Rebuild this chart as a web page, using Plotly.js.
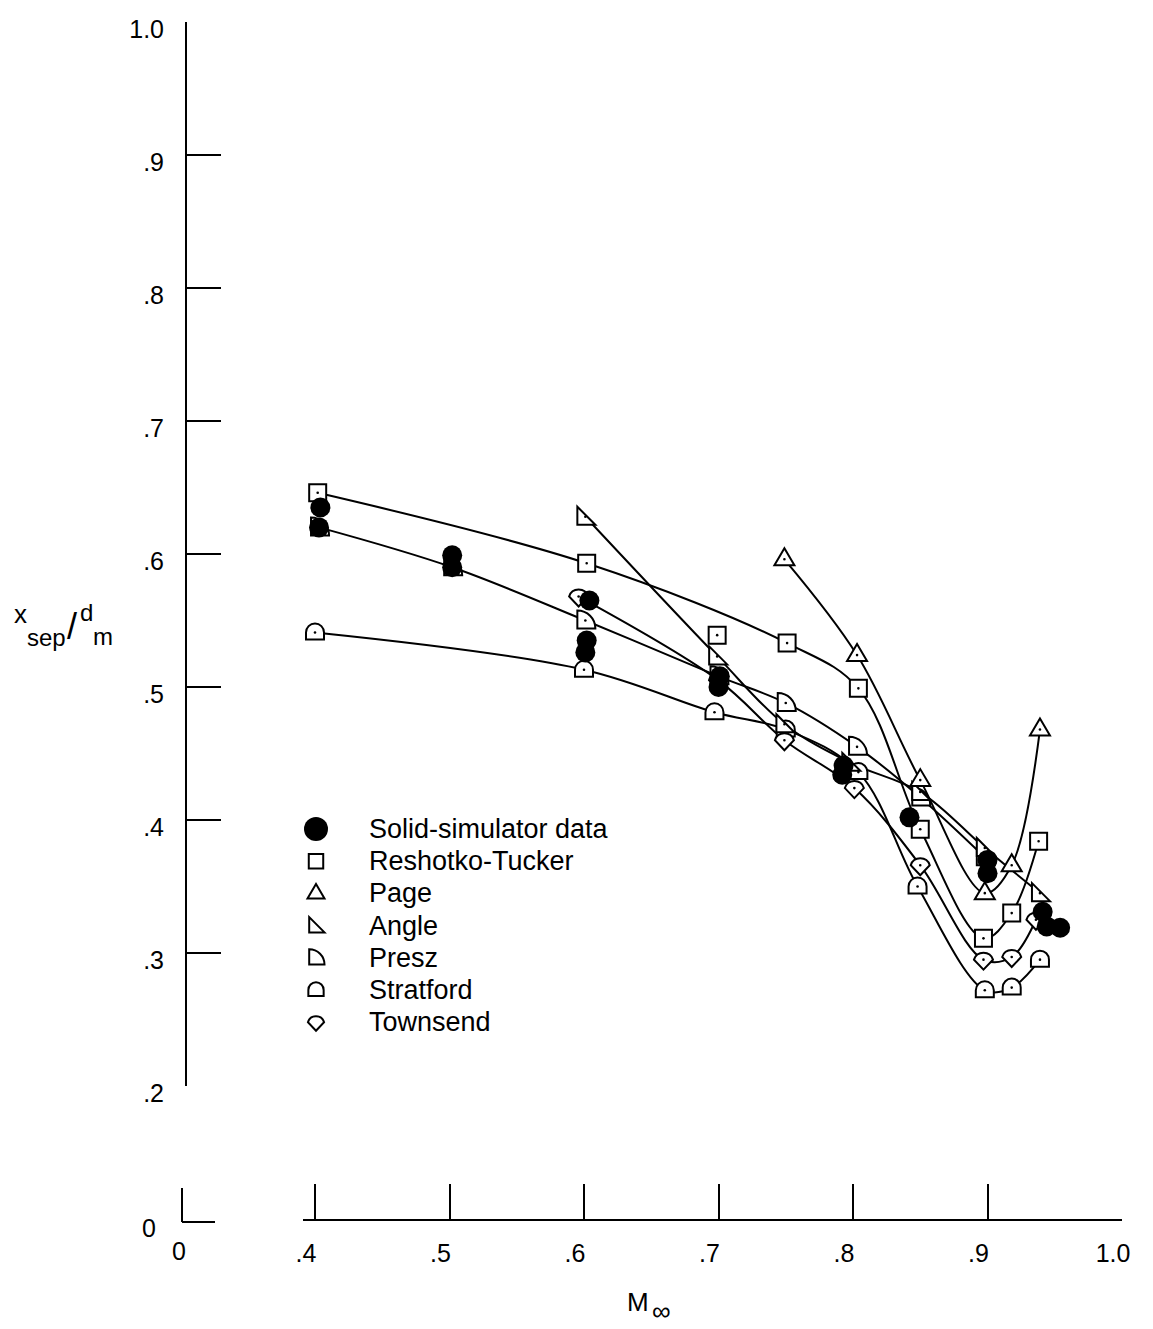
<!DOCTYPE html>
<html><head><meta charset="utf-8">
<script src="https://cdn.plot.ly/plotly-3.0.1.min.js"></script>
<style>html,body{margin:0;padding:0;background:#fff}#chart{width:1153px;height:1329px}</style>
</head><body><div id="chart"></div>
<script>
const W = 1153, H = 1329;
const FONT = "Liberation Sans Narrow, Liberation Sans, Arial, sans-serif";

// ---------- data (Mach number M, separation location x_sep/d_m) ----------
const solidM = [0.404,0.403,0.502,0.502,0.604,0.602,0.601,0.701,0.700,0.793,0.792,0.842,0.900,0.900,0.941,0.944,0.954];
const solidX = [0.635,0.620,0.599,0.590,0.565,0.535,0.526,0.508,0.500,0.441,0.434,0.402,0.370,0.360,0.331,0.320,0.319];

const reshM = [0.402,0.602,0.751,0.804,0.850,0.897,0.918,0.938];
const reshX = [0.646,0.593,0.533,0.499,0.393,0.311,0.330,0.384];
const reshExtraM = [0.699];
const reshExtraX = [0.539];

const pageM = [0.749,0.803,0.850,0.898,0.918,0.939];
const pageX = [0.596,0.524,0.430,0.345,0.366,0.468];

const angleM = [0.601,0.699,0.749,0.798,0.850,0.898,0.939];
const angleX = [0.628,0.523,0.472,0.443,0.421,0.379,0.345];

const preszM = [0.403,0.502,0.601,0.700,0.750,0.803,0.850,0.898];
const preszX = [0.620,0.590,0.550,0.508,0.488,0.455,0.417,0.372];

const stratM = [0.400,0.600,0.697,0.750,0.804,0.848,0.898,0.918,0.939];
const stratX = [0.541,0.513,0.481,0.468,0.436,0.350,0.272,0.274,0.295];

const townM = [0.596,0.700,0.749,0.801,0.850,0.897,0.918,0.936];
const townX = [0.568,0.505,0.460,0.424,0.366,0.295,0.297,0.325];

const legendNames = ["Solid-simulator data","Reshotko-Tucker","Page","Angle","Presz","Stratford","Townsend"];

const xTickVals = [0.4,0.5,0.6,0.7,0.8,0.9,1.0];
const xTickText = [".4",".5",".6",".7",".8",".9","1.0"];
const yTickVals = [0.2,0.3,0.4,0.5,0.6,0.7,0.8,0.9,1.0];
const yTickText = [".2",".3",".4",".5",".6",".7",".8",".9","1.0"];

// ---------- symbol paths (pixel units, y up) ----------
function fmt(v){ return (Math.round(v*100)/100).toString(); }
const paths = {
  square: k => `M${fmt(-8.5*k)},${fmt(-8.5*k)}L${fmt(8.5*k)},${fmt(-8.5*k)}L${fmt(8.5*k)},${fmt(8.5*k)}L${fmt(-8.5*k)},${fmt(8.5*k)}Z`,
  page: k => `M${fmt(-10*k)},${fmt(-6*k)}L${fmt(10*k)},${fmt(-6*k)}L0,${fmt(11*k)}Z`,
  angle: k => `M${fmt(-8*k)},${fmt(-8*k)}L${fmt(10*k)},${fmt(-8*k)}L${fmt(-8*k)},${fmt(10*k)}Z`,
  presz: k => `M${fmt(-8*k)},${fmt(-8*k)}L${fmt(10*k)},${fmt(-8*k)}C${fmt(10*k)},${fmt(2*k)} ${fmt(2*k)},${fmt(10*k)} ${fmt(-8*k)},${fmt(10*k)}Z`,
  strat: k => `M${fmt(-9*k)},${fmt(-7*k)}L${fmt(9*k)},${fmt(-7*k)}L${fmt(9*k)},0C${fmt(9*k)},${fmt(5*k)} ${fmt(5*k)},${fmt(9*k)} 0,${fmt(9*k)}C${fmt(-5*k)},${fmt(9*k)} ${fmt(-9*k)},${fmt(5*k)} ${fmt(-9*k)},0Z`,
  town: k => `M0,${fmt(-10*k)}L${fmt(9.5*k)},0C${fmt(8*k)},${fmt(5*k)} ${fmt(4*k)},${fmt(7*k)} 0,${fmt(7*k)}C${fmt(-4*k)},${fmt(7*k)} ${fmt(-8*k)},${fmt(5*k)} ${fmt(-9.5*k)},0Z`
};

function symShape(path, xa, ya, xref, yref){
  return {type:'path', xref:xref, yref:yref, xsizemode:'pixel', ysizemode:'pixel',
    xanchor:xa, yanchor:ya, path:path, line:{color:'#000', width:2}, fillcolor:'#fff', layer:'above'};
}
function dotShape(xa, ya, xref, yref, r){
  return {type:'circle', xref:xref, yref:yref, xsizemode:'pixel', ysizemode:'pixel',
    xanchor:xa, yanchor:ya, x0:-r, x1:r, y0:-r, y1:r, line:{width:0}, fillcolor:'#000', layer:'above'};
}

const shapes = [];
function addSeries(M, X, pathKey){
  for(let i=0;i<M.length;i++){
    shapes.push(symShape(paths[pathKey](1), M[i], X[i], 'x', 'y'));
    shapes.push(dotShape(M[i], X[i], 'x', 'y', 1.3));
  }
}
addSeries(stratM, stratX, 'strat');
addSeries(townM, townX, 'town');
addSeries(preszM, preszX, 'presz');
addSeries(angleM, angleX, 'angle');
addSeries(pageM, pageX, 'page');
addSeries(reshM, reshX, 'square');
addSeries(reshExtraM, reshExtraX, 'square');
for(let i=0;i<solidM.length;i++) shapes.push(dotShape(solidM[i], solidX[i], 'x', 'y', 10));

// ---------- legend (drawn manually) ----------
const legX = 316, legTextX = 367, legY0 = 829, legDY = 32.2;
const legKeys = [null,'square','page','angle','presz','strat','town'];
const annotations = [];
legendNames.forEach((name, i) => {
  const py = legY0 + i*legDY;
  const xp = legX/W, yp = 1 - py/H;
  if(legKeys[i] === null) shapes.push(dotShape(xp, yp, 'paper', 'paper', 12));
  else shapes.push(symShape(paths[legKeys[i]](0.85), xp, yp, 'paper', 'paper'));
  annotations.push({xref:'paper', yref:'paper', x:legTextX/W, y:yp, xanchor:'left', yanchor:'middle',
    text:name, showarrow:false, font:{family:FONT, size:27, color:'#000'}});
});

// axis titles
function ann(text, px, py, size){
  return {xref:'paper', yref:'paper', x:px/W, y:1-py/H, xanchor:'center', yanchor:'middle',
    text:text, showarrow:false, font:{family:FONT, size:size, color:'#000'}};
}
annotations.push(ann('x', 20, 614, 26));
annotations.push(ann('sep', 46, 637, 24));
annotations.push(ann('/', 72, 626, 36));
annotations.push(ann('d', 86, 612, 24));
annotations.push(ann('m', 103, 636, 24));
annotations.push(ann('M', 638, 1302, 26));
annotations.push(ann('∞', 661, 1311, 26));

// ---------- traces ----------
const lineStyle = {color:'#000', width:2, shape:'spline', smoothing:1};
function curve(M, X){ return {x:M, y:X, mode:'lines', line:lineStyle, hoverinfo:'skip', showlegend:false, xaxis:'x', yaxis:'y'}; }
const traces = [
  curve(reshM, reshX), curve(pageM, pageX), curve(angleM, angleX), curve(preszM, preszX),
  curve(stratM, stratX), curve(townM, townX),
  {x:[], y:[], mode:'markers', xaxis:'x2', yaxis:'y2', showlegend:false, hoverinfo:'skip'}
];

const tickFont = {family:FONT, size:25, color:'#000'};
const layout = {
  width:W, height:H, margin:{l:0,r:0,t:0,b:0}, paper_bgcolor:'#fff', plot_bgcolor:'rgba(0,0,0,0)',
  showlegend:false,
  xaxis:{domain:[303/W, 1122/W], range:[0.4-12/1345, 1.0], anchor:'free', position:1-1220/H,
    showline:true, linecolor:'#000', linewidth:2, ticks:'inside', ticklen:35, tickwidth:2, tickcolor:'#000',
    tickvals:xTickVals, ticktext:xTickText, showgrid:false, zeroline:false, tickfont:tickFont,
    ticklabelstandoff:11, ticklabelshift:-9, fixedrange:true},
  yaxis:{domain:[1-1086/H, 1-22/H], range:[0.2, 1.0], anchor:'free', position:186/W,
    showline:true, linecolor:'#000', linewidth:2, ticks:'inside', ticklen:34, tickwidth:2, tickcolor:'#000',
    tickvals:yTickVals, ticktext:yTickText, showgrid:false, zeroline:false, tickfont:tickFont,
    ticklabelstandoff:16, ticklabelshift:7, fixedrange:true},
  xaxis2:{domain:[182/W, 215/W], range:[0, 33/1345], anchor:'free', position:1-1222/H,
    showline:true, linecolor:'#000', linewidth:2, ticks:'inside', ticklen:34, tickwidth:2, tickcolor:'#000',
    tickvals:[0], ticktext:['0'], showgrid:false, zeroline:false, tickfont:tickFont,
    ticklabelstandoff:7, ticklabelshift:-3, fixedrange:true},
  yaxis2:{domain:[1-1222/H, 1-1188/H], range:[0, 34/1330], anchor:'free', position:182/W,
    showline:true, linecolor:'#000', linewidth:2, ticks:'inside', ticklen:33, tickwidth:2, tickcolor:'#000',
    tickvals:[0], ticktext:['0'], showgrid:false, zeroline:false, tickfont:tickFont,
    ticklabelstandoff:20, ticklabelshift:6, fixedrange:true},
  shapes:shapes, annotations:annotations
};
Plotly.newPlot('chart', traces, layout, {staticPlot:true, displayModeBar:false});
</script></body></html>
